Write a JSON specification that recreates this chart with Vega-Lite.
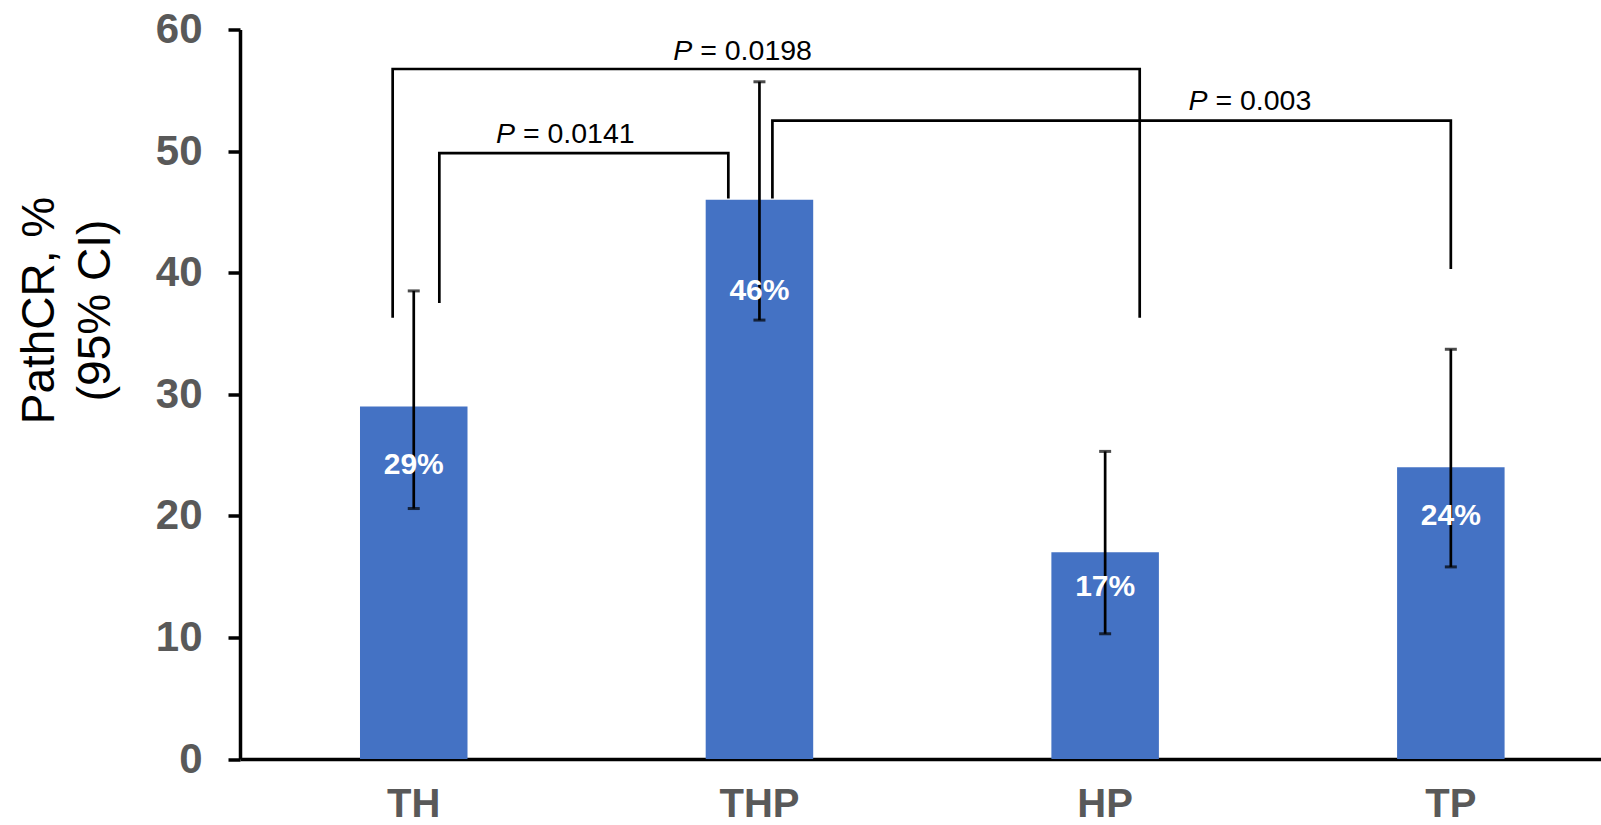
{
  "$schema": "https://vega.github.io/schema/vega-lite/v6.json",
  "width": 1361,
  "height": 729.5,
  "autosize": {"type": "none"},
  "padding": {"left": 240, "top": 29.5, "right": 0, "bottom": 66},
  "background": "white",
  "config": {"view": {"stroke": null}, "font": "Liberation Sans"},
  "datasets": {
    "bars": [
      {"group": "TH", "value": 29, "lower": 20.6, "upper": 38.5, "label": "29%"},
      {"group": "THP", "value": 46, "lower": 36.1, "upper": 55.7, "label": "46%"},
      {"group": "HP", "value": 17, "lower": 10.3, "upper": 25.3, "label": "17%"},
      {"group": "TP", "value": 24, "lower": 15.8, "upper": 33.7, "label": "24%"}
    ],
    "brackets": [
      {"bracket": "TH-THP", "i": 1, "px": 0.074, "py": 37.5},
      {"bracket": "TH-THP", "i": 2, "px": 0.074, "py": 49.83},
      {"bracket": "TH-THP", "i": 3, "px": 0.91, "py": 49.83},
      {"bracket": "TH-THP", "i": 4, "px": 0.91, "py": 46.1},
      {"bracket": "TH-HP", "i": 1, "px": -0.061, "py": 36.3},
      {"bracket": "TH-HP", "i": 2, "px": -0.061, "py": 56.75},
      {"bracket": "TH-HP", "i": 3, "px": 2.1, "py": 56.75},
      {"bracket": "TH-HP", "i": 4, "px": 2.1, "py": 36.3},
      {"bracket": "THP-TP", "i": 1, "px": 1.0375, "py": 46.1},
      {"bracket": "THP-TP", "i": 2, "px": 1.0375, "py": 52.5},
      {"bracket": "THP-TP", "i": 3, "px": 3.0, "py": 52.5},
      {"bracket": "THP-TP", "i": 4, "px": 3.0, "py": 40.3}
    ],
    "pvals": [
      {"px": 0.2929, "py": 50.69, "p": "P", "rest": "= 0.0141"},
      {"px": 0.8058, "py": 57.49, "p": "P", "rest": "= 0.0198"},
      {"px": 2.2961, "py": 53.38, "p": "P", "rest": "= 0.003"}
    ]
  },
  "layer": [
    {
      "data": {"name": "bars"},
      "encoding": {
        "x": {
          "field": "group", "type": "nominal", "sort": null,
          "scale": {"type": "band", "paddingInner": 0.689, "paddingOuter": 0.313, "align": 0.5545, "round": false},
          "axis": {
            "title": null, "labelAngle": 0, "labelFontSize": 40, "labelFontWeight": "bold",
            "labelColor": "#595959", "ticks": false, "tickSize": 0, "labelPadding": 25,
            "domainColor": "black", "domainWidth": 3.5, "grid": false
          }
        }
      },
      "layer": [
        {
          "mark": {"type": "bar", "color": "#4472C4"},
          "encoding": {
            "y": {
              "field": "value", "type": "quantitative",
              "scale": {"domain": [0, 60], "nice": false},
              "axis": {
                "title": ["PathCR, %", "(95% CI)"], "values": [0, 10, 20, 30, 40, 50, 60],
                "labelFontSize": 42, "labelFontWeight": "bold", "labelColor": "#595959",
                "tickSize": 12, "tickWidth": 3.5, "tickColor": "black", "labelPadding": 26,
                "domainColor": "black", "domainWidth": 3.5, "grid": false,
                "titleFontSize": 46, "titleFontWeight": "normal", "titleColor": "black",
                "titleAngle": -90, "titleX": -187, "titleY": 280.5, "titleAlign": "center",
                "titleBaseline": "alphabetic", "titleLineHeight": 56
              }
            }
          }
        },
        {
          "mark": {"type": "rule", "color": "black", "strokeWidth": 2.7},
          "encoding": {
            "y": {"field": "lower", "type": "quantitative"},
            "y2": {"field": "upper"}
          }
        },
        {
          "mark": {"type": "tick", "color": "black", "size": 12, "thickness": 3},
          "encoding": {"y": {"field": "lower", "type": "quantitative"}}
        },
        {
          "mark": {"type": "tick", "color": "black", "size": 12, "thickness": 3},
          "encoding": {"y": {"field": "upper", "type": "quantitative"}}
        }
      ]
    },
    {
      "data": {"name": "bars"},
      "mark": {"type": "text", "color": "white", "fontSize": 30, "fontWeight": "bold", "baseline": "middle", "align": "center", "dy": 2},
      "encoding": {
        "x": {
          "field": "group", "type": "nominal", "sort": null,
          "scale": {"type": "band", "paddingInner": 0.689, "paddingOuter": 0.313, "align": 0.5545, "round": false},
          "axis": null
        },
        "y": {"field": "value", "type": "quantitative", "scale": {"domain": [0, 71.43], "nice": false}, "axis": null},
        "text": {"field": "label"}
      }
    },
    {
      "layer": [
        {
          "data": {"name": "brackets"},
          "mark": {"type": "line", "color": "black", "strokeWidth": 2.7, "strokeCap": "butt", "strokeJoin": "miter"},
          "encoding": {
            "x": {"field": "px", "type": "quantitative", "scale": {"domain": [-0.50262, 3.43443], "nice": false, "zero": false}, "axis": null},
            "y": {"field": "py", "type": "quantitative", "scale": {"domain": [0, 60], "nice": false}, "axis": null},
            "detail": {"field": "bracket"},
            "order": {"field": "i"}
          }
        },
        {
          "data": {"name": "pvals"},
          "mark": {"type": "text", "fontSize": 28.5, "fontStyle": "italic", "align": "right", "baseline": "alphabetic", "color": "black"},
          "encoding": {
            "x": {"field": "px", "type": "quantitative"},
            "y": {"field": "py", "type": "quantitative"},
            "text": {"field": "p"}
          }
        },
        {
          "data": {"name": "pvals"},
          "mark": {"type": "text", "fontSize": 28.5, "align": "left", "baseline": "alphabetic", "color": "black", "dx": 7.9},
          "encoding": {
            "x": {"field": "px", "type": "quantitative"},
            "y": {"field": "py", "type": "quantitative"},
            "text": {"field": "rest"}
          }
        }
      ]
    }
  ],
  "resolve": {"scale": {"x": "independent", "y": "independent"}}
}
